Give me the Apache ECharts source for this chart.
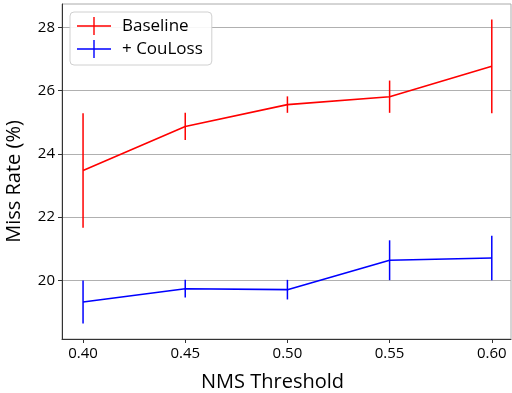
<!DOCTYPE html>
<html>
<head>
<meta charset="utf-8">
<script src="https://cdn.jsdelivr.net/npm/echarts@6/dist/echarts.min.js"></script>
<style>
  html, body { margin: 0; padding: 0; background: #fff; }
  #chart { width: 512px; height: 393px; }
</style>
</head>
<body>
<div id="chart"></div>
<script>
const thresholds = [0.40, 0.45, 0.50, 0.55, 0.60];
const baselineMean = [23.48, 24.87, 25.56, 25.81, 26.77];
const baselineErr = [1.81, 0.43, 0.26, 0.51, 1.48];
const couLossMean = [19.32, 19.74, 19.71, 20.64, 20.71];
const couLossErr = [0.68, 0.28, 0.31, 0.63, 0.70];
const yTicks = [20, 22, 24, 26, 28];

const FONT = "Open Sans";
const RED = "#ff0000";
const BLUE = "#0000ff";
// legend marker: horizontal line crossed by a vertical error bar
const ERR_ICON = "path://M0,8.3H34V9.7H0Z M16.3,0H17.7V18H16.3Z";

function errorBars(name, means, errs, color) {
  return {
    type: "custom",
    name: name + " err",
    data: thresholds.map((x, i) => [x, means[i] - errs[i], means[i] + errs[i]]),
    renderItem: (params, api) => {
      const lo = api.coord([api.value(0), api.value(1)]);
      const hi = api.coord([api.value(0), api.value(2)]);
      return {
        type: "line",
        shape: { x1: lo[0], y1: lo[1], x2: hi[0], y2: hi[1] },
        style: { stroke: color, lineWidth: 1.5 },
      };
    },
    z: 3,
  };
}

function lineSeries(name, means, color) {
  return {
    type: "line",
    name,
    data: thresholds.map((x, i) => [x, means[i]]),
    symbol: "none",
    lineStyle: { color, width: 1.6 },
    itemStyle: { color },
    z: 4,
  };
}

const chart = echarts.init(document.getElementById("chart"));
chart.setOption({
  animation: false,
  backgroundColor: "#fff",
  grid: {
    left: 62, right: 1, top: 4, bottom: 54,
    containLabel: false,
    outerBoundsMode: "none",
    show: true, borderColor: "#aaaaaa", borderWidth: 1,
  },
  legend: {
    data: [
      { name: "Baseline", icon: ERR_ICON },
      { name: "+ CouLoss", icon: ERR_ICON },
    ],
    orient: "vertical",
    left: 70, top: 12,
    itemWidth: 34, itemHeight: 18,
    itemGap: 5,
    padding: [5, 9, 7, 7],
    borderColor: "#d0d0d0", borderWidth: 1, borderRadius: 4,
    backgroundColor: "rgba(255,255,255,0.9)",
    textStyle: { fontFamily: FONT, fontSize: 17, color: "#000", padding: [0, 0, 0, 6] },
  },
  xAxis: {
    type: "value",
    min: 0.3897, max: 0.6094,
    name: "NMS Threshold",
    nameLocation: "middle",
    nameGap: 33,
    nameTextStyle: { fontFamily: FONT, fontSize: 20, color: "#000", padding: [0, 28, 0, 0] },
    axisLine: { show: true, lineStyle: { color: "#333", width: 1 } },
    axisTick: { show: true, length: 4, lineStyle: { color: "#333" }, customValues: thresholds },
    axisLabel: {
      customValues: thresholds,
      formatter: (v) => v.toFixed(2),
      fontFamily: FONT, fontSize: 15, color: "#000", margin: 7,
    },
    splitLine: { show: false },
  },
  yAxis: {
    type: "value",
    min: 18.15, max: 28.74,
    name: "Miss Rate (%)",
    nameLocation: "middle",
    nameGap: 38,
    nameTextStyle: { fontFamily: FONT, fontSize: 20, color: "#000", padding: [0, 20, 0, 0] },
    axisLine: { show: true, lineStyle: { color: "#333", width: 1 } },
    axisTick: { show: true, length: 4, lineStyle: { color: "#333" }, customValues: yTicks },
    axisLabel: {
      customValues: yTicks,
      fontFamily: FONT, fontSize: 15, color: "#000", margin: 7,
    },
    splitLine: { show: true, lineStyle: { color: "#b0b0b0", width: 1 } },
  },
  series: [
    lineSeries("Baseline", baselineMean, RED),
    lineSeries("+ CouLoss", couLossMean, BLUE),
    errorBars("Baseline", baselineMean, baselineErr, RED),
    errorBars("+ CouLoss", couLossMean, couLossErr, BLUE),
  ],
});
</script>
</body>
</html>
